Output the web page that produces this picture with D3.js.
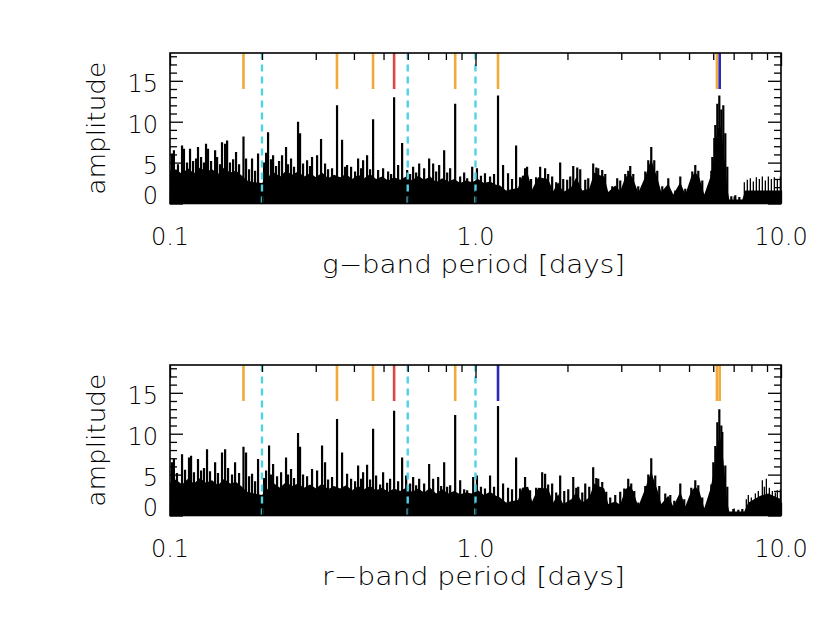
<!DOCTYPE html>
<html>
<head>
<meta charset="utf-8">
<script src="https://cdn.jsdelivr.net/npm/d3@7"></script>
<style>
  body { margin: 0; background: #fff; }
  svg { display: block; }
  text { font-family: "DejaVu Sans", sans-serif; font-weight: 200; fill: #000; }
</style>
</head>
<body>
<div id="chart"></div>
<script>
; (function () {

    // periodogram spikes: [period in days, amplitude]
    var gSpikes = [
        [0.1015, 6.1], [0.1030, 6.5], [0.1062, 4.8], [0.1095, 7.1], [0.1111, 6.7], [0.1137, 5.0],
        [0.1163, 6.7], [0.1190, 5.2], [0.1217, 5.5], [0.1235, 6.9], [0.1264, 5.7], [0.1292, 5.0],
        [0.1312, 7.3], [0.1332, 6.7], [0.1363, 5.2], [0.1405, 6.5], [0.1426, 5.7], [0.1458, 4.8],
        [0.1480, 7.5], [0.1515, 7.3], [0.1538, 7.7], [0.1572, 5.0], [0.1609, 5.4], [0.1645, 6.3],
        [0.1683, 4.8], [0.1740, 8.2], [0.1774, 5.5], [0.1815, 4.2], [0.1856, 5.5], [0.1899, 4.0],
        [0.1942, 6.1], [0.2032, 5.0], [0.2063, 6.2], [0.2094, 8.7], [0.2141, 5.4], [0.2175, 5.9],
        [0.2224, 4.6], [0.2275, 5.2], [0.2327, 5.9], [0.2398, 6.9], [0.2434, 4.8], [0.2490, 5.5],
        [0.2547, 4.5], [0.2625, 10.0], [0.2665, 8.6], [0.2726, 4.9], [0.2810, 5.3], [0.2874, 4.6],
        [0.2917, 5.7], [0.3030, 5.9], [0.3122, 7.9], [0.3218, 4.9], [0.3292, 4.2], [0.3392, 4.3],
        [0.3522, 12.0], [0.3658, 7.8], [0.3742, 4.5], [0.3799, 4.7], [0.3915, 4.5], [0.4035, 3.9],
        [0.4128, 5.5], [0.4222, 4.3], [0.4286, 5.3], [0.4417, 5.9], [0.4519, 4.2], [0.4622, 10.3],
        [0.4800, 4.1], [0.4984, 4.3], [0.5176, 3.9], [0.5294, 3.6], [0.5415, 13.0], [0.5581, 4.7],
        [0.5752, 7.4], [0.5974, 4.1], [0.6110, 3.6], [0.6250, 4.5], [0.6393, 3.8], [0.6540, 4.9],
        [0.6790, 4.3], [0.7051, 5.5], [0.7267, 4.9], [0.7434, 3.9], [0.7604, 4.7], [0.7896, 6.5],
        [0.8077, 3.8], [0.8261, 4.3], [0.8579, 12.2], [0.8909, 3.3], [0.9181, 3.8], [0.9392, 3.1],
        [0.9753, 4.5], [1.011, 4.3], [1.042, 3.4], [1.074, 3.7], [1.116, 3.3], [1.150, 3.6],
        [1.185, 13.2], [1.231, 4.7], [1.278, 3.7], [1.317, 3.0], [1.358, 7.1], [1.399, 3.2],
        [1.453, 4.3], [1.475, 4.5], [1.520, 3.0], [1.579, 3.2], [1.628, 4.5], [1.690, 4.3],
        [1.729, 3.6], [1.782, 3.3], [1.837, 2.6], [1.893, 5.0], [1.937, 3.0], [1.996, 2.9],
        [2.042, 3.3], [2.089, 4.6], [2.153, 4.4], [2.202, 4.2], [2.287, 2.9], [2.339, 3.1],
        [2.428, 4.9], [2.485, 4.4], [2.522, 4.3], [2.599, 4.1], [2.659, 3.6], [2.803, 2.1],
        [2.910, 3.1], [2.977, 2.8], [3.091, 3.6], [3.162, 4.0], [3.210, 4.6], [3.284, 3.6],
        [3.410, 2.1], [3.595, 3.9], [3.677, 5.3], [3.761, 6.9], [3.847, 5.3], [3.935, 4.0],
        [4.086, 2.1], [4.276, 3.1], [4.507, 1.6], [4.681, 3.3], [4.860, 1.8], [5.124, 3.9],
        [5.241, 4.7], [5.361, 4.0], [5.525, 2.8], [5.737, 1.6], [5.914, 4.0], [5.959, 5.7],
        [6.049, 8.0], [6.095, 9.6], [6.188, 12.2], [6.282, 13.2], [6.377, 11.5], [6.474, 12.0],
        [6.572, 8.6], [6.672, 4.5], [6.877, 0.9], [7.087, 1.0], [7.305, 0.8], [7.585, 2.6],
        [7.758, 2.9], [7.937, 3.1], [8.118, 2.7], [8.304, 3.2], [8.494, 3.0], [8.688, 3.3],
        [8.888, 2.8], [9.091, 3.3], [9.300, 3.0], [9.512, 3.2], [9.730, 2.9], [9.952, 3.3]
    ]

    // solid black part under the spikes
    var gFloor = [
        [0.1000, 3.8], [0.1046, 4.2], [0.1095, 3.6], [0.1145, 4.3], [0.1198, 3.7], [0.1254, 4.4],
        [0.1312, 3.9], [0.1373, 4.2], [0.1436, 3.6], [0.1503, 4.4], [0.1572, 3.8], [0.1645, 4.0],
        [0.1721, 3.4], [0.1787, 2.8], [0.1884, 2.6], [0.2001, 2.5], [0.2094, 3.3], [0.2191, 3.8],
        [0.2292, 3.3], [0.2398, 4.0], [0.2509, 3.5], [0.2625, 3.9], [0.2747, 3.3], [0.2874, 3.7],
        [0.3007, 3.2], [0.3146, 3.8], [0.3292, 3.1], [0.3444, 3.5], [0.3604, 3.2], [0.3770, 3.6],
        [0.3945, 3.0], [0.4128, 3.5], [0.4318, 3.1], [0.4519, 3.6], [0.4728, 3.0], [0.4947, 3.3],
        [0.5176, 2.8], [0.5415, 3.2], [0.5666, 2.9], [0.5929, 3.3], [0.6203, 2.8], [0.6491, 3.4],
        [0.6790, 2.9], [0.7105, 3.3], [0.7434, 2.6], [0.7778, 3.1], [0.8138, 2.7], [0.8514, 3.0],
        [0.8909, 2.5], [0.9321, 2.8], [0.9753, 2.6], [1.019, 3.0], [1.066, 2.5], [1.116, 2.7],
        [1.167, 2.3], [1.203, 2.2], [1.259, 1.6], [1.378, 1.9], [1.421, 3.4], [1.487, 3.5],
        [1.532, 1.7], [1.603, 3.2], [1.729, 3.0], [1.796, 1.5], [1.865, 2.6], [1.937, 1.4],
        [2.058, 2.0], [2.137, 3.2], [2.236, 1.6], [2.357, 1.8], [2.447, 3.8], [2.522, 3.5],
        [2.639, 3.3], [2.720, 1.4], [2.867, 2.2], [2.977, 1.5], [3.091, 3.2], [3.210, 3.6],
        [3.284, 3.0], [3.410, 1.3], [3.595, 3.3], [3.677, 4.4], [3.761, 5.4], [3.847, 4.2],
        [3.935, 3.2], [4.055, 1.4], [4.276, 2.4], [4.440, 1.1], [4.681, 2.6], [4.860, 1.1],
        [5.086, 3.3], [5.241, 3.8], [5.402, 3.2], [5.609, 1.1], [5.870, 3.2], [6.004, 5.0],
        [6.095, 7.0], [6.188, 9.0], [6.329, 9.5], [6.425, 8.0], [6.523, 5.5], [6.672, 1.8],
        [6.774, 0.5], [7.472, 0.5], [7.642, 1.6], [10.0, 1.6]
    ]

    var rSpikes = [
        [0.1015, 6.5], [0.1030, 6.9], [0.1054, 5.2], [0.1095, 7.5], [0.1120, 5.6], [0.1154, 7.1],
        [0.1172, 7.3], [0.1198, 5.3], [0.1235, 6.9], [0.1264, 5.5], [0.1292, 5.8], [0.1322, 8.1],
        [0.1352, 5.4], [0.1405, 6.5], [0.1436, 5.2], [0.1480, 7.7], [0.1515, 8.1], [0.1549, 5.8],
        [0.1596, 5.0], [0.1633, 6.5], [0.1683, 5.2], [0.1740, 8.4], [0.1774, 7.7], [0.1815, 4.8],
        [0.1856, 5.1], [0.1899, 4.2], [0.1942, 6.9], [0.2032, 4.6], [0.2063, 5.5], [0.2110, 8.55],
        [0.2141, 5.0], [0.2175, 6.3], [0.2241, 4.8], [0.2310, 5.3], [0.2398, 7.1], [0.2434, 5.0],
        [0.2490, 5.7], [0.2547, 4.6], [0.2625, 10.1], [0.2665, 8.4], [0.2726, 5.0], [0.2810, 4.8],
        [0.2917, 5.7], [0.3030, 5.5], [0.3146, 8.55], [0.3218, 6.5], [0.3292, 4.4], [0.3392, 4.7],
        [0.3522, 11.8], [0.3658, 7.7], [0.3799, 5.1], [0.3915, 4.5], [0.4035, 4.2], [0.4128, 6.1],
        [0.4222, 4.5], [0.4286, 5.3], [0.4417, 6.2], [0.4519, 4.4], [0.4622, 10.6], [0.4728, 4.9],
        [0.4873, 3.8], [0.4984, 5.3], [0.5137, 4.0], [0.5254, 4.5], [0.5415, 12.8], [0.5581, 4.2],
        [0.5752, 7.1], [0.5929, 4.9], [0.6110, 3.9], [0.6250, 4.7], [0.6393, 3.7], [0.6540, 4.5],
        [0.6790, 3.9], [0.7051, 6.3], [0.7267, 4.5], [0.7547, 4.7], [0.7719, 3.6], [0.7896, 6.5],
        [0.8077, 3.5], [0.8261, 3.7], [0.8579, 12.3], [0.8909, 4.3], [0.9181, 3.2], [0.9392, 3.1],
        [0.9827, 4.7], [1.011, 4.9], [1.042, 3.5], [1.074, 3.3], [1.116, 4.9], [1.150, 3.5],
        [1.185, 13.4], [1.231, 3.9], [1.278, 3.4], [1.317, 3.2], [1.358, 7.1], [1.399, 3.3],
        [1.453, 4.7], [1.509, 3.1], [1.579, 3.4], [1.653, 5.3], [1.690, 5.1], [1.729, 3.8],
        [1.782, 3.9], [1.837, 2.8], [1.893, 4.9], [1.952, 3.0], [2.012, 3.2], [2.089, 4.7],
        [2.137, 3.4], [2.169, 3.5], [2.236, 2.8], [2.287, 3.9], [2.357, 3.5], [2.428, 5.9],
        [2.485, 4.6], [2.522, 4.5], [2.599, 4.1], [2.679, 2.9], [2.761, 2.2], [2.867, 2.5],
        [2.977, 2.9], [3.068, 3.3], [3.162, 4.5], [3.234, 3.9], [3.309, 3.0], [3.410, 1.6],
        [3.595, 3.6], [3.677, 5.0], [3.761, 7.0], [3.876, 4.9], [3.995, 3.6], [4.180, 2.7],
        [4.341, 2.5], [4.473, 1.8], [4.681, 3.9], [4.824, 2.0], [5.086, 3.4], [5.241, 4.3],
        [5.361, 3.7], [5.525, 2.2], [5.737, 1.5], [5.914, 3.8], [6.004, 6.5], [6.095, 8.5],
        [6.188, 11.4], [6.282, 13.0], [6.377, 11.0], [6.425, 10.2], [6.572, 6.1], [6.672, 3.5],
        [6.981, 0.8], [7.250, 0.7], [7.472, 0.8], [7.700, 2.0], [7.817, 2.5], [7.997, 2.2],
        [8.242, 2.7], [8.430, 3.0], [8.688, 4.3], [8.821, 3.5], [8.955, 4.5], [9.160, 3.4],
        [9.370, 3.0], [9.584, 2.8], [9.730, 3.1], [9.952, 3.2]
    ]

    var rFloor = [
        [0.1000, 4.0], [0.1046, 4.4], [0.1095, 3.8], [0.1145, 4.5], [0.1198, 3.9], [0.1254, 4.6],
        [0.1312, 4.0], [0.1373, 4.3], [0.1436, 3.7], [0.1503, 4.5], [0.1572, 3.9], [0.1645, 4.1],
        [0.1721, 3.5], [0.1787, 2.9], [0.1884, 2.7], [0.2001, 2.5], [0.2094, 3.3], [0.2191, 3.9],
        [0.2292, 3.4], [0.2398, 4.1], [0.2509, 3.6], [0.2625, 3.9], [0.2747, 3.4], [0.2874, 3.8],
        [0.3007, 3.3], [0.3146, 3.9], [0.3292, 3.2], [0.3444, 3.6], [0.3604, 3.3], [0.3770, 3.7],
        [0.3945, 3.1], [0.4128, 3.6], [0.4318, 3.2], [0.4519, 3.6], [0.4728, 3.1], [0.4947, 3.4],
        [0.5176, 2.9], [0.5415, 3.3], [0.5666, 3.0], [0.5929, 3.4], [0.6203, 2.9], [0.6491, 3.3],
        [0.6790, 2.8], [0.7105, 3.4], [0.7434, 2.7], [0.7778, 3.2], [0.8138, 2.7], [0.8514, 3.0],
        [0.8909, 2.6], [0.9321, 2.8], [0.9753, 2.7], [1.019, 3.1], [1.066, 2.5], [1.116, 2.9],
        [1.167, 2.4], [1.203, 2.2], [1.259, 1.6], [1.378, 1.9], [1.421, 3.4], [1.487, 3.5],
        [1.532, 1.7], [1.603, 3.4], [1.729, 3.3], [1.796, 1.6], [1.865, 2.6], [1.937, 1.4],
        [2.058, 2.0], [2.137, 2.8], [2.236, 1.6], [2.357, 2.2], [2.447, 3.9], [2.522, 3.6],
        [2.639, 3.3], [2.720, 1.4], [2.867, 1.7], [2.977, 1.3], [3.091, 3.2], [3.210, 3.6],
        [3.284, 3.0], [3.410, 1.1], [3.595, 3.3], [3.677, 4.4], [3.761, 5.4], [3.847, 4.2],
        [3.935, 3.2], [4.055, 1.4], [4.276, 2.4], [4.440, 1.1], [4.681, 2.9], [4.860, 1.1],
        [5.086, 3.0], [5.241, 3.5], [5.402, 3.0], [5.609, 0.9], [5.870, 3.2], [6.004, 5.0],
        [6.095, 7.0], [6.188, 9.0], [6.329, 9.5], [6.425, 8.0], [6.523, 5.5], [6.672, 1.5],
        [6.774, 0.5], [7.585, 0.5], [7.817, 1.6], [8.559, 2.4], [9.091, 2.7], [10.0, 2.0]
    ]

    // marked periods: 'alias' orange, 'main' red, 'best' blue
    var gMarkPeriods = [0.174, 0.352, 0.462, 0.5415, 0.858, 1.185, 6.17, 6.30]
    var gMarkKinds = ['alias', 'alias', 'alias', 'main', 'alias', 'alias', 'alias', 'best']
    var rMarkPeriods = [0.174, 0.352, 0.462, 0.5415, 0.858, 1.185, 6.17, 6.30]
    var rMarkKinds = ['alias', 'alias', 'alias', 'main', 'alias', 'best', 'alias', 'alias']

    var windowPeriods = [0.2, 0.6, 1.0]

    var xTicks = [0.1, 1.0, 10.0]
    var xTickLabels = ['0.1', '1.0', '10.0']
    var xMinorTicks = [0.2, 0.3, 0.4, 0.5, 0.6, 0.7, 0.8, 0.9, 2, 3, 4, 5, 6, 7, 8, 9]
    var yTicks = [0, 5, 10, 15]
    var yMinorTicks = [1, 2, 3, 4, 6, 7, 8, 9, 11, 12, 13, 14, 16, 17, 18]

    var markColor = { alias: '#f2a93b', main: '#de4646', best: '#2a2ab4' }

    var panels = [
        { top: 53, label: 'g\u2212band period [days]', spikes: gSpikes, floor: gFloor, markP: gMarkPeriods, markK: gMarkKinds },
        { top: 365, label: 'r\u2212band period [days]', spikes: rSpikes, floor: rFloor, markP: rMarkPeriods, markK: rMarkKinds }
    ]

    var left = 170, right = 781, boxH = 150.5, yMax = 18.4

    var svg = d3.select('#chart').append('svg').attr('width', 830).attr('height', 623)

    var x = d3.scaleLog().domain([0.1, 10]).range([left, right])

    panels.forEach(function (p, i) {
        var y = d3.scaleLinear().domain([0, yMax]).range([p.top + boxH, p.top])
        var g = svg.append('g')

        var clipId = 'clip' + i
        svg.append('clipPath').attr('id', clipId)
            .append('rect').attr('x', left).attr('y', p.top).attr('width', right - left).attr('height', boxH)

        var plot = g.append('g').attr('clip-path', 'url(#' + clipId + ')')

        var area = d3.area()
            .x(function (d) { return x(d[0]) })
            .y0(y(0))
            .y1(function (d) { return y(d[1]) })

        plot.append('path').datum(p.floor)
            .attr('d', area)
            .attr('fill', '#000')

        plot.selectAll('.spike')
            .data(p.spikes)
            .enter().append('line')
            .attr('class', 'spike')
            .attr('x1', function (d) { return x(d[0]) })
            .attr('x2', function (d) { return x(d[0]) })
            .attr('y1', y(0))
            .attr('y2', function (d) { return y(d[1]) })
            .attr('stroke', '#000')
            .attr('stroke-width', function (d) { return d[0] > 7.5 ? 1.3 : 2.2 })

        // markers above the peaks
        plot.selectAll('.mark')
            .data(p.markP)
            .enter().append('line')
            .attr('class', 'mark')
            .attr('x1', function (d) { return x(d) })
            .attr('x2', function (d) { return x(d) })
            .attr('y1', y(14))
            .attr('y2', y(yMax))
            .attr('stroke', function (d, k) { return markColor[p.markK[k]] })
            .attr('stroke-width', 2.6)

        plot.selectAll('.win')
            .data(windowPeriods)
            .enter().append('line')
            .attr('class', 'win')
            .attr('x1', function (d) { return x(d) })
            .attr('x2', function (d) { return x(d) })
            .attr('y1', y(0))
            .attr('y2', y(yMax))
            .attr('stroke', '#4fd3e3')
            .attr('stroke-width', 2.4)
            .attr('stroke-dasharray', '7,5')

        // ticks, pointing inward
        var ax = g.append('g').attr('class', 'ticks')
        ax.append('g').attr('transform', 'translate(' + left + ',0)')
            .call(d3.axisLeft(y).tickValues(yTicks).tickSize(-13).tickFormat(''))
        ax.append('g').attr('transform', 'translate(' + left + ',0)')
            .call(d3.axisLeft(y).tickValues(yMinorTicks).tickSize(-7).tickFormat(''))
        ax.append('g').attr('transform', 'translate(' + right + ',0)')
            .call(d3.axisRight(y).tickValues(yTicks).tickSize(-13).tickFormat(''))
        ax.append('g').attr('transform', 'translate(' + right + ',0)')
            .call(d3.axisRight(y).tickValues(yMinorTicks).tickSize(-7).tickFormat(''))
        ax.append('g').attr('transform', 'translate(0,' + p.top + ')')
            .call(d3.axisTop(x).tickValues(xTicks).tickSize(-13).tickFormat(''))
        ax.append('g').attr('transform', 'translate(0,' + p.top + ')')
            .call(d3.axisTop(x).tickValues(xMinorTicks).tickSize(-7).tickFormat(''))
        ax.append('g').attr('transform', 'translate(0,' + (p.top + boxH) + ')')
            .call(d3.axisBottom(x).tickValues(xTicks).tickSize(-13).tickFormat(''))
        ax.append('g').attr('transform', 'translate(0,' + (p.top + boxH) + ')')
            .call(d3.axisBottom(x).tickValues(xMinorTicks).tickSize(-7).tickFormat(''))
        ax.selectAll('.domain').remove()
        ax.selectAll('line').attr('stroke', '#000').attr('stroke-width', 1.3)

        g.append('rect')
            .attr('x', left).attr('y', p.top)
            .attr('width', right - left).attr('height', boxH)
            .attr('fill', 'none').attr('stroke', '#000').attr('stroke-width', 1.6)

        // tick labels
        g.selectAll('.ylab')
            .data(yTicks)
            .enter().append('text')
            .attr('class', 'ylab')
            .attr('x', 158)
            .attr('y', function (d) { return d === 0 ? y(d) : y(d) + 11 })
            .attr('text-anchor', 'end')
            .attr('font-size', 24)
            .text(function (d) { return d })

        g.selectAll('.xlab')
            .data(xTicks)
            .enter().append('text')
            .attr('class', 'xlab')
            .attr('x', function (d) { return x(d) })
            .attr('y', p.top + boxH + 41)
            .attr('text-anchor', 'middle')
            .attr('font-size', 24)
            .text(function (d, k) { return xTickLabels[k] })

        g.append('text')
            .attr('x', (left + right) / 2 - 2)
            .attr('y', p.top + boxH + 69.5)
            .attr('text-anchor', 'middle')
            .attr('font-size', 24)
            .attr('textLength', 303)
            .attr('lengthAdjust', 'spacingAndGlyphs')
            .text(p.label)

        g.append('text')
            .attr('transform', 'translate(105,' + (p.top + boxH / 2) + ') rotate(-90)')
            .attr('text-anchor', 'middle')
            .attr('font-size', 24)
            .attr('textLength', 133)
            .attr('lengthAdjust', 'spacingAndGlyphs')
            .text('amplitude')
    })

})();
</script>
</body>
</html>
